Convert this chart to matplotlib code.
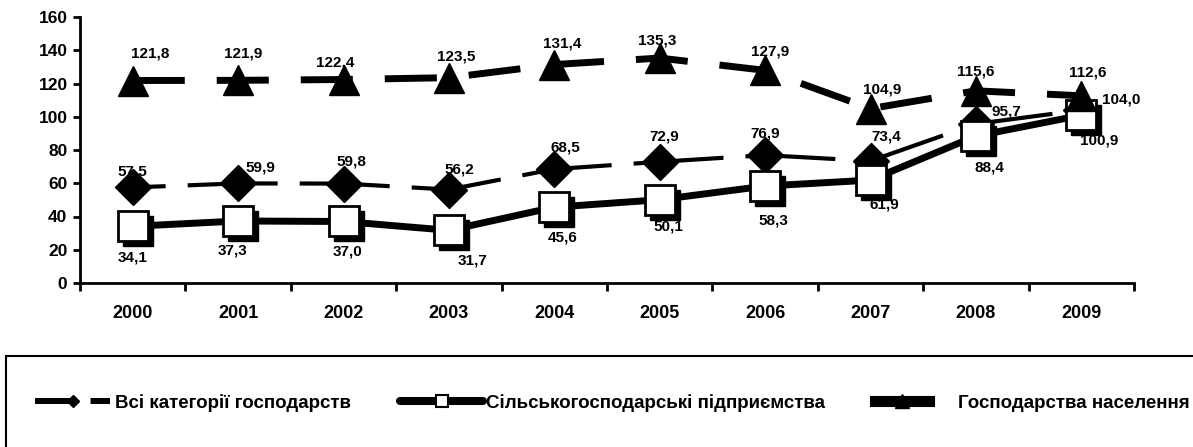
import numpy as np
import matplotlib
matplotlib.use('Agg')
import matplotlib.pyplot as plt
from matplotlib.transforms import ScaledTranslation
from matplotlib.patches import Rectangle
from matplotlib.lines import Line2D

plt.rcParams['font.family'] = ['Liberation Sans', 'DejaVu Sans']
plt.rcParams['font.weight'] = 'bold'

years = ['2000', '2001', '2002', '2003', '2004', '2005', '2006', '2007', '2008', '2009']
all_cat = [57.5, 59.9, 59.8, 56.2, 68.5, 72.9, 76.9, 73.4, 95.7, 104.0]
agri = [34.1, 37.3, 37.0, 31.7, 45.6, 50.1, 58.3, 61.9, 88.4, 100.9]
house = [121.8, 121.9, 122.4, 123.5, 131.4, 135.3, 127.9, 104.9, 115.6, 112.6]
names = ['Всі категорії господарств', 'Сільськогосподарські підприємства', 'Господарства населення']

# label offsets in pixels (dx, dy)
off_all = [(0, 16), (22, 16), (8, 22), (10, 20), (11, 22), (5, 25), (0, 22), (16, 24), (30, 12), (40, 11)]
off_agri = [(0, -31), (-6, -30), (4, -30), (24, -30), (8, -30), (9, -27), (8, -34), (14, -24), (14, -31), (18, -25)]
off_house = [(17, 27), (5, 27), (-8, 17), (7, 21), (8, 21), (-3, 18), (5, 19), (12, 19), (0, 19), (6, 23)]

fig = plt.figure(figsize=(11.93, 4.47), dpi=100)
ax = fig.add_axes([80 / 1193, 164 / 447, 1054 / 1193, 266 / 447])

x = np.arange(len(years))

ax.plot(x, all_cat, color='black', lw=3, linestyle=(13.7, (21.6, 5.3)), marker='D', ms=18,
        mfc='black', mec='black', zorder=3)

# squares get a black drop shadow
shadow = ax.transData + ScaledTranslation(5 / 100, -5 / 100, fig.dpi_scale_trans)
ax.plot(x, agri, color='black', marker='s', ms=21, mfc='black', mec='black',
        linestyle='none', transform=shadow, zorder=4)
ax.plot(x, agri, color='black', lw=5, marker='s', ms=21, mfc='white', mec='black',
        mew=2, zorder=4)

ax.plot(x, house, color='black', lw=5, dashes=(7.5, 4.6), marker='^', ms=22,
        mfc='black', mec='black', zorder=5)

for vals, offs in [(all_cat, off_all), (agri, off_agri), (house, off_house)]:
    for i, v in enumerate(vals):
        ax.annotate(f'{v:.1f}'.replace('.', ','), (i, v), xytext=(offs[i][0] * 0.72, offs[i][1] * 0.72),
                    textcoords='offset points', ha='center', va='center',
                    fontsize=11, fontweight='bold', zorder=6)

ax.set_xlim(-0.5, 9.5)
ax.set_ylim(0, 160)
ax.set_yticks(range(0, 161, 20))
ax.set_xticks(np.arange(-0.5, 10, 1))
ax.set_xticklabels([])
ax.set_xticks(x, minor=True)
ax.set_xticklabels(years, minor=True)
ax.tick_params(axis='x', which='major', length=6, width=2, direction='out')
ax.tick_params(axis='x', which='minor', length=0, pad=16, labelsize=13)
ax.tick_params(axis='y', length=5, width=2, direction='out', pad=4, labelsize=12.5)
for lab in ax.get_xticklabels(minor=True) + ax.get_yticklabels():
    lab.set_fontweight('bold')
for s in ['top', 'right']:
    ax.spines[s].set_visible(False)
for s in ['left', 'bottom']:
    ax.spines[s].set_linewidth(2)

# legend box runs past the right and bottom edges
fig.patches.append(Rectangle((6 / 1193, -0.1), 1.2, (447 - 356) / 447 + 0.1, transform=fig.transFigure,
                             fill=False, edgecolor='black', lw=1.5))

h1 = Line2D([], [], color='black', lw=4.3, linestyle=(0, (6.5, 2.8)), marker='D', ms=6, mfc='black', mec='black')
h2 = Line2D([], [], color='black', lw=5.8, solid_capstyle='round', marker='s', ms=8.5, mfc='white', mec='black', mew=1.5)
h3 = Line2D([], [], color='black', lw=8, marker='^', ms=10, mfc='black', mec='black')

# (handle, label, left px, handle length, text pad)
leg_fs = 13.5
entries = [(h1, names[0], 35, 4.0, 0.27), (h2, names[1], 400, 4.43, 0.16), (h3, names[2], 875, 2.88, 1.55)]
for h, name, left, hl, tp in entries:
    fig.legend([h], [name], loc='center left', bbox_to_anchor=(left / 1193, 44 / 447),
               frameon=False, handlelength=hl, handletextpad=tp, borderaxespad=0, borderpad=0,
               prop={'weight': 'bold', 'size': leg_fs})

fig.savefig('out.png', dpi=100)
